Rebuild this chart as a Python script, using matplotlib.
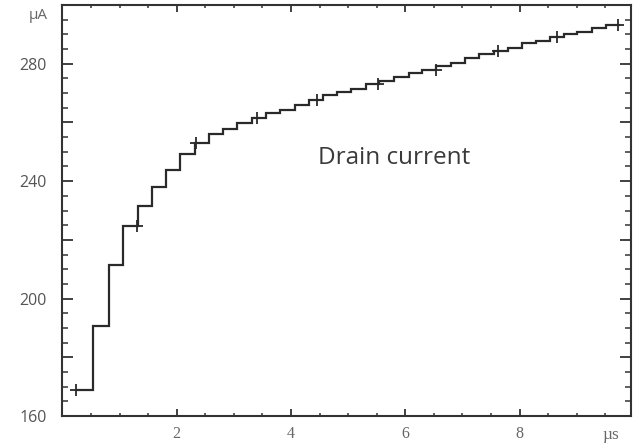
import matplotlib
matplotlib.use("Agg")
import matplotlib.pyplot as plt
from matplotlib.ticker import MultipleLocator, FixedLocator

# ---- data ----
step_edges = [0.24, 0.54, 0.82, 1.065, 1.32, 1.56, 1.81, 2.06, 2.32, 2.56,
              2.81, 3.06, 3.32, 3.56, 3.81, 4.07, 4.31, 4.56, 4.81, 5.05,
              5.31, 5.54, 5.80, 6.06, 6.29, 6.53, 6.80, 7.05, 7.29, 7.55,
              7.79, 8.05, 8.28, 8.54, 8.78, 9.01, 9.27, 9.51, 9.75]
step_levels = [169.0, 190.5, 211.5, 224.7, 231.6, 237.9, 243.8, 249.2, 253.1,
               256.0, 257.8, 259.9, 261.6, 263.2, 264.4, 265.9, 267.6, 269.4,
               270.4, 271.5, 273.0, 274.1, 275.5, 276.7, 277.8, 279.3, 280.4,
               282.0, 283.3, 284.4, 285.5, 286.9, 287.8, 289.1, 290.1, 290.9,
               292.0, 293.1]
marker_t = [0.24, 1.31, 2.34, 3.41, 4.46, 5.52, 6.54, 7.62, 8.65, 9.72]
marker_i = [169.0, 224.7, 253.1, 261.6, 267.6, 273.0, 277.8, 284.4, 289.1, 293.1]

x_major = [2, 4, 6, 8]
x_labels = ["2", "4", "6", "8"]
y_ticks = [160, 180, 200, 220, 240, 260, 280, 300]
y_labels = ["160", "", "200", "", "240", "", "280", ""]
annotation = "Drain current"
x_unit = "\u00b5s"
y_unit = "\u00b5A"

W, H = 636, 444
fig = plt.figure(figsize=(W / 100, H / 100), dpi=100)
ax = fig.add_axes([62.4 / W, 1 - 416 / H, (631 - 62.4) / W, (416 - 5) / H])

line_col = "#2a2a2a"
ax.stairs(step_levels, step_edges, baseline=None, color=line_col, lw=1.6)
ax.plot(marker_t, marker_i, ls="none", marker="+", ms=8, mew=1.3, color=line_col)

ax.set_xlim(0, 9.95)
ax.set_ylim(160, 300)

for s in ax.spines.values():
    s.set_color("#333333")
    s.set_linewidth(1.5)

ax.xaxis.set_major_locator(FixedLocator(x_major))
ax.set_xticklabels(x_labels, family="Liberation Serif", fontsize=11.5, color="#666666")
ax.xaxis.set_minor_locator(MultipleLocator(0.5))
ax.set_yticks(y_ticks)
ax.set_yticklabels(y_labels, family="Open Sans", fontsize=11.5, color="#555555")
ax.yaxis.set_minor_locator(MultipleLocator(5))

ax.tick_params(axis="both", which="both", direction="in", top=True, right=True,
               color="#333333")
ax.tick_params(axis="y", which="major", length=8, width=1.3, pad=11)
ax.tick_params(axis="y", which="minor", length=4, width=1.1)
ax.tick_params(axis="x", which="major", length=5, width=1.3, pad=7)
ax.tick_params(axis="x", which="minor", length=2.5, width=1.1)

ax.text(-0.025, 0.975, y_unit, transform=ax.transAxes, ha="right", va="center",
        family="Open Sans", fontsize=11, color="#666666")
ax.text(9.6, -0.027, x_unit, transform=ax.get_xaxis_transform(), ha="center",
        va="top", family="Liberation Serif", fontsize=12.5, color="#666666")

ax.text(5.8, 246.0, annotation, ha="center", va="baseline", family="Open Sans",
        fontsize=17.5, color="#3a3a3a")

fig.savefig("out.png", dpi=100)
